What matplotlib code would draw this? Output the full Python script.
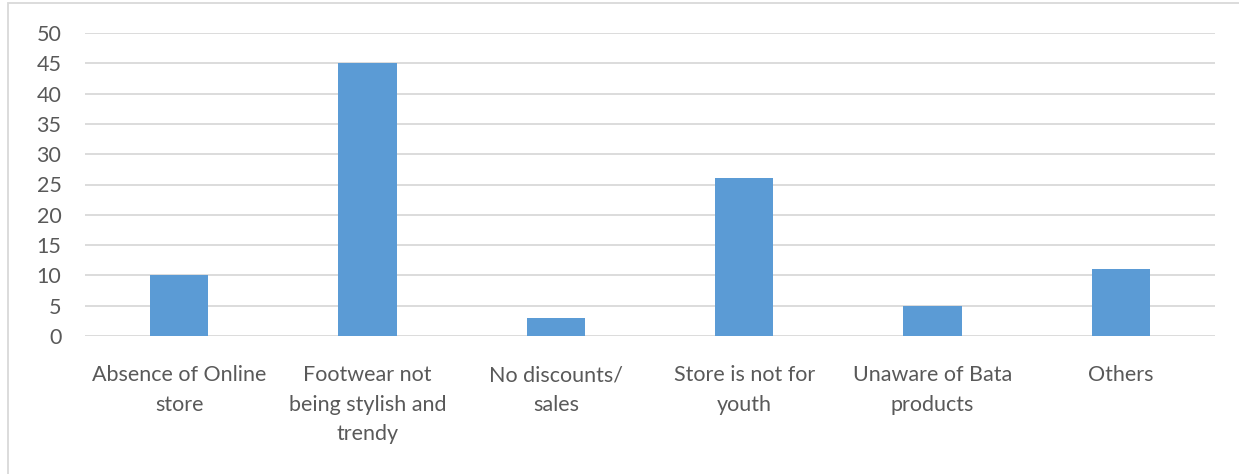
import matplotlib
matplotlib.use('Agg')
import matplotlib.pyplot as plt
from matplotlib.patches import Rectangle

categories = ['Absence of Online\nstore', 'Footwear not\nbeing stylish and\ntrendy',
              'No discounts/\nsales', 'Store is not for\nyouth', 'Unaware of Bata\nproducts', 'Others']
values = [10, 45, 3, 26, 5, 11]
yticks = [0, 5, 10, 15, 20, 25, 30, 35, 40, 45, 50]

plt.rcParams['font.family'] = ['Lato', 'DejaVu Sans']
txt = '#595959'
grid = '#D9D9D9'

fig = plt.figure(figsize=(12.39, 4.74), dpi=100)
ax = fig.add_axes([85/1239, 1-336/474, 1130/1239, 303/474])

# chart border (only top/left edges show)
fig.patches.append(Rectangle((8/1239, -0.1), 1.2, 1-3/474+0.1, transform=fig.transFigure,
                             fill=False, edgecolor=grid, linewidth=1.3))

x = range(len(categories))
ax.bar(x, values, width=0.31, color='#5B9BD5', zorder=3)
ax.set_xlim(-0.5, len(categories)-0.5)
ax.set_ylim(0, 50)
ax.set_yticks(yticks)
ax.set_xticks(list(x))
ax.set_xticklabels(categories, linespacing=1.6)
for t in yticks:
    ax.axhline(t, color=grid, linewidth=1.3, zorder=1)
for s in ax.spines.values():
    s.set_visible(False)
ax.tick_params(axis='both', length=0, colors=txt, labelsize=15.5)
ax.tick_params(axis='y', pad=17)
ax.tick_params(axis='x', pad=21)

fig.savefig('out.png', dpi=100)
